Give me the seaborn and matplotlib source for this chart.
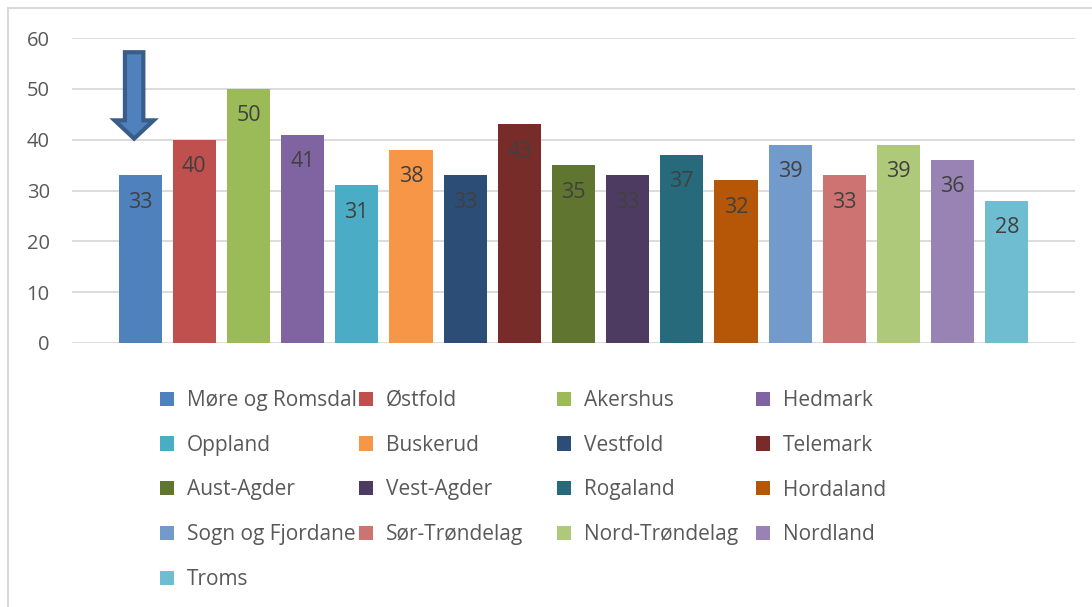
import matplotlib
matplotlib.use("Agg")
import matplotlib.pyplot as plt
import seaborn as sns
import pandas as pd
from matplotlib.patches import Patch, Polygon, Rectangle

regions = ["Møre og Romsdal", "Østfold", "Akershus", "Hedmark", "Oppland", "Buskerud",
           "Vestfold", "Telemark", "Aust-Agder", "Vest-Agder", "Rogaland", "Hordaland",
           "Sogn og Fjordane", "Sør-Trøndelag", "Nord-Trøndelag", "Nordland", "Troms"]
values = [33, 40, 50, 41, 31, 38, 33, 43, 35, 33, 37, 32, 39, 33, 39, 36, 28]
colors = ["#4F81BD", "#C0504D", "#9BBB59", "#8064A2", "#4BACC6", "#F79646",
          "#2C4D75", "#772C2A", "#5F7530", "#4D3B62", "#276A7C", "#B65708",
          "#729ACA", "#CD7371", "#AFC97A", "#9983B5", "#6FBDD1"]
yticks = [0, 10, 20, 30, 40, 50, 60]

sns.set_theme(style="white")
plt.rcParams["font.family"] = ["Open Sans", "DejaVu Sans"]

df = pd.DataFrame({"region": regions, "value": values})

W, H = 1092, 607
fig = plt.figure(figsize=(W / 100, H / 100), dpi=100)
ax = fig.add_axes([72 / W, 1 - 343 / H, (1075 - 72) / W, (343 - 38) / H])

sns.barplot(data=df, x="region", y="value", hue="region", palette=colors,
            order=regions, hue_order=regions, dodge=False, legend=False,
            width=0.795, saturation=1, linewidth=0, edgecolor="none", ax=ax)

ax.set_xlim(-1.257, len(regions) - 1 + 1.257)
ax.set_ylim(0, 60)
ax.set_yticks(yticks)
ax.set_yticklabels([str(t) for t in yticks], fontsize=14.5, color="#595959")
ax.tick_params(axis="y", length=0, pad=16)
ax.set_xticks([])
ax.set_xlabel("")
ax.set_ylabel("")
for s in ax.spines.values():
    s.set_visible(False)
ax.grid(axis="y", color="#D9D9D9", linewidth=1.3)
ax.set_axisbelow(True)

# data labels inside end
for i, v in enumerate(values):
    ax.annotate(str(v), xy=(i, v), xytext=(0, -27), textcoords="offset pixels",
                ha="center", va="center", fontsize=15.5, color="#404040")

# arrow above first bar
x0 = -0.11
sw, hw = 0.17, 0.36
top, hb, tip = 57.2, 43.8, 40.2
pts = [(x0 - sw, top), (x0 + sw, top), (x0 + sw, hb), (x0 + hw, hb),
       (x0, tip), (x0 - hw, hb), (x0 - sw, hb)]
ax.add_patch(Polygon(pts, closed=True, facecolor="#4F81BD", edgecolor="#385D8A",
                     linewidth=3, joinstyle="miter", clip_on=False, zorder=5))

# legend: 4 columns, row-major order
ncol = 4
col_x = [160, 359, 557, 756]
for c in range(ncol):
    idx = [i for i in range(len(regions)) if i % ncol == c]
    handles = [Patch(facecolor=colors[i], edgecolor="none") for i in idx]
    labels = [regions[i] for i in idx]
    fig.legend(handles, labels, loc="upper left",
               bbox_to_anchor=(col_x[c] / W, 1 - 390 / H),
               frameon=False, fontsize=15, labelcolor="#595959",
               handlelength=0.68, handleheight=0.68, handletextpad=0.6,
               labelspacing=1.14, borderpad=0, borderaxespad=0)

# chart border (top and left visible)
fig.add_artist(Rectangle((8 / W, -0.1), 1.2, 1 - 8 / H + 0.1, transform=fig.transFigure,
                         facecolor="none", edgecolor="#D9D9D9", linewidth=1.5))

fig.savefig("out.png", dpi=100)
